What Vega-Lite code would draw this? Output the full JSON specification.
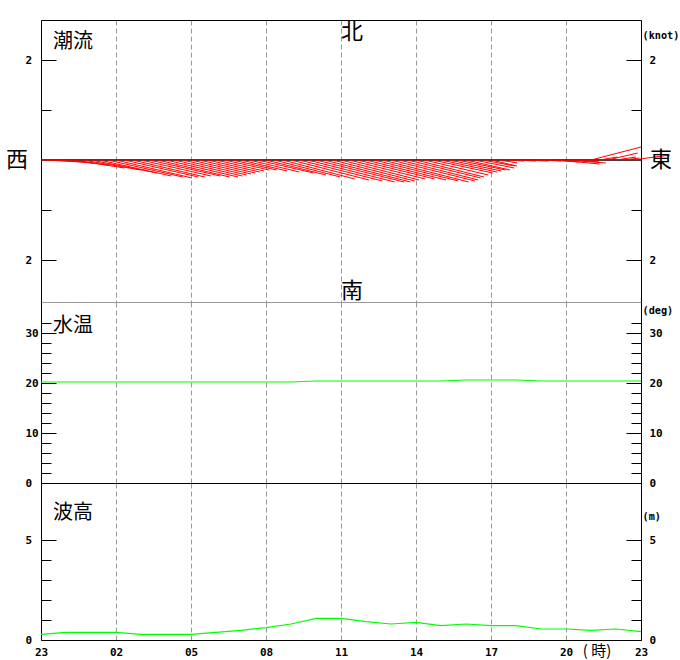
{
"$schema": "https://vega.github.io/schema/vega-lite/v6.json",
"padding": {"left": 5, "top": 20, "right": 0, "bottom": 0},
"background": "white",
"bounds": "flush",
"spacing": 0,
"config": {
  "view": {"stroke": null},
  "axis": {"labelFont": "DejaVu Sans Mono", "labelFontWeight": "bold", "labelFontSize": 11, "labelColor": "#000", "tickColor": "#000", "domainColor": "#000", "tickWidth": 1, "domainWidth": 1, "grid": false, "title": null}
},
"datasets": {
"current": [
{"t":0,"te":1.12,"v":-0.02},{"t":0.333,"te":1.613,"v":-0.04},{"t":0.667,"te":2.107,"v":-0.06},
{"t":1,"te":2.68,"v":-0.1},{"t":1.333,"te":3.333,"v":-0.16},{"t":1.667,"te":3.987,"v":-0.2},
{"t":2,"te":4.64,"v":-0.26},{"t":2.333,"te":5.213,"v":-0.32},{"t":2.667,"te":5.667,"v":-0.34},
{"t":3,"te":6.04,"v":-0.36},{"t":3.333,"te":6.293,"v":-0.34},{"t":3.667,"te":6.547,"v":-0.34},
{"t":4,"te":6.8,"v":-0.32},{"t":4.333,"te":7.173,"v":-0.32},{"t":4.667,"te":7.547,"v":-0.34},
{"t":5,"te":7.88,"v":-0.34},{"t":5.333,"te":8.053,"v":-0.32},{"t":5.667,"te":8.227,"v":-0.3},
{"t":6,"te":8.4,"v":-0.28},{"t":6.333,"te":8.573,"v":-0.26},{"t":6.667,"te":8.747,"v":-0.24},
{"t":7,"te":8.92,"v":-0.22},{"t":7.333,"te":9.133,"v":-0.2},{"t":7.667,"te":9.427,"v":-0.2},
{"t":8,"te":9.84,"v":-0.22},{"t":8.333,"te":10.333,"v":-0.24},{"t":8.667,"te":10.907,"v":-0.26},
{"t":9,"te":11.4,"v":-0.3},{"t":9.333,"te":11.973,"v":-0.34},{"t":9.667,"te":12.547,"v":-0.38},
{"t":10,"te":13.12,"v":-0.4},{"t":10.333,"te":13.653,"v":-0.42},{"t":10.667,"te":14.147,"v":-0.44},
{"t":11,"te":14.52,"v":-0.44},{"t":11.333,"te":14.773,"v":-0.44},{"t":11.667,"te":14.947,"v":-0.42},
{"t":12,"te":15.12,"v":-0.4},{"t":12.333,"te":15.373,"v":-0.38},{"t":12.667,"te":15.747,"v":-0.38},
{"t":13,"te":16.2,"v":-0.4},{"t":13.333,"te":16.693,"v":-0.42},{"t":13.667,"te":17.107,"v":-0.44},
{"t":14,"te":17.36,"v":-0.42},{"t":14.333,"te":17.493,"v":-0.4},{"t":14.667,"te":17.587,"v":-0.36},
{"t":15,"te":17.72,"v":-0.34},{"t":15.333,"te":17.893,"v":-0.3},{"t":15.667,"te":18.067,"v":-0.26},
{"t":16,"te":18.24,"v":-0.24},{"t":16.333,"te":18.413,"v":-0.22},{"t":16.667,"te":18.587,"v":-0.2},
{"t":17,"te":18.76,"v":-0.2},{"t":17.333,"te":18.933,"v":-0.16},{"t":17.667,"te":18.947,"v":-0.12},
{"t":18,"te":19.04,"v":-0.12},{"t":18.333,"te":19.053,"v":-0.06},{"t":18.667,"te":19.307,"v":-0.02},
{"t":19,"te":19.8,"v":-0.02},{"t":19.333,"te":20.293,"v":-0.02},{"t":19.667,"te":20.467,"v":0},
{"t":20,"te":20.8,"v":-0.02},{"t":20.333,"te":21.533,"v":-0.04},{"t":20.667,"te":22.347,"v":-0.08},
{"t":21,"te":22.6,"v":-0.06},{"t":21.333,"te":22.333,"v":-0.04},{"t":21.667,"te":22.307,"v":-0.02},
{"t":22,"te":24,"v":0.26},{"t":22.333,"te":23.053,"v":0.06},{"t":22.667,"te":23.867,"v":0.14},
{"t":23,"te":23.8,"v":0.06},{"t":23.333,"te":23.933,"v":0.04},{"t":23.667,"te":25.147,"v":0.1}
],
"temp": [
{"t":0,"temp":20.2},{"t":1,"temp":20.2},{"t":2,"temp":20.2},{"t":3,"temp":20.2},{"t":4,"temp":20.2},{"t":5,"temp":20.2},{"t":6,"temp":20.2},{"t":7,"temp":20.2},{"t":8,"temp":20.2},{"t":9,"temp":20.2},{"t":10,"temp":20.2},
{"t":11,"temp":20.4},{"t":12,"temp":20.4},{"t":13,"temp":20.4},{"t":14,"temp":20.4},{"t":15,"temp":20.4},{"t":16,"temp":20.4},
{"t":17,"temp":20.6},{"t":18,"temp":20.6},{"t":19,"temp":20.6},
{"t":20,"temp":20.4},{"t":21,"temp":20.4},{"t":22,"temp":20.4},{"t":23,"temp":20.4},{"t":24,"temp":20.4}
],
"wave": [
{"t":0,"h":0.28},{"t":1,"h":0.38},{"t":2,"h":0.38},{"t":3,"h":0.38},{"t":4,"h":0.28},{"t":5,"h":0.28},{"t":6,"h":0.28},{"t":7,"h":0.38},{"t":8,"h":0.48},{"t":9,"h":0.62},{"t":10,"h":0.8},{"t":11,"h":1.08},{"t":12,"h":1.08},
{"t":13,"h":0.92},{"t":14,"h":0.8},{"t":15,"h":0.88},{"t":16,"h":0.72},{"t":17,"h":0.8},{"t":18,"h":0.72},{"t":19,"h":0.72},{"t":20,"h":0.55},{"t":21,"h":0.55},{"t":22,"h":0.48},{"t":23,"h":0.55},{"t":24,"h":0.42}
]
},
"vconcat": [
{
  "width": 600, "height": 282,
  "data": {"name": "current"},
  "layer": [
    {"data": {"values": [{}]}, "mark": {"type": "rule", "color": "#000", "strokeWidth": 1.3}, "encoding": {"y": {"datum": 0, "type": "quantitative", "axis": null}}},
    {"mark": {"type": "rule", "color": "#ff0000", "strokeWidth": 1},
     "encoding": {
       "x": {"field": "te", "type": "quantitative", "scale": {"domain": [0, 24], "nice": false, "zero": false},
             "axis": {"orient": "bottom", "values": [3,6,9,12,15,18,21], "grid": true, "gridColor": "#999999", "gridDash": [5,3], "gridWidth": 1, "ticks": false, "tickSize": 0, "labels": false, "domain": true, "domainColor": "#999999", "title": null}},
       "x2": {"field": "t"},
       "y": {"field": "v", "type": "quantitative", "scale": {"domain": [-2.84, 2.8], "nice": false, "zero": false},
             "axis": {"orient": "left", "values": [-2, 2], "tickSize": -15, "labelPadding": 31, "labelAlign": "left", "labelBaseline": "middle", "labelExpr": "abs(datum.value)", "domain": true, "title": null}},
       "y2": {"datum": 0}
     }},
    {"mark": {"type": "rule", "opacity": 0}, "encoding": {"x": {"field": "t", "type": "quantitative", "axis": {"orient": "top", "ticks": false, "tickSize": 0, "labels": false, "domain": true, "title": null}}}},
    {"mark": {"type": "rule", "opacity": 0}, "encoding": {"y": {"field": "v", "type": "quantitative", "axis": {"orient": "right", "values": [-2, 2], "tickSize": -15, "labelPadding": 23, "labelAlign": "left", "labelBaseline": "middle", "labelExpr": "abs(datum.value)", "domain": true, "title": null}}}},
    {"mark": {"type": "rule", "opacity": 0}, "encoding": {"y": {"field": "v", "type": "quantitative", "axis": {"orient": "left", "values": [-1, 1], "tickSize": -10, "labels": false, "domain": false, "title": null}}}},
    {"mark": {"type": "rule", "opacity": 0}, "encoding": {"y": {"field": "v", "type": "quantitative", "axis": {"orient": "right", "values": [-1, 1], "tickSize": -10, "labels": false, "domain": false, "title": null}}}},
    {"data": {"values": [{}]}, "mark": {"type": "text", "text": "潮流", "font": "Noto Sans CJK JP", "fontSize": 20, "align": "left", "baseline": "middle", "color": "#000"}, "encoding": {"x": {"datum": 0.48, "type": "quantitative", "axis": null}, "y": {"datum": 2.36, "type": "quantitative", "axis": null}}},
    {"data": {"values": [{}]}, "mark": {"type": "text", "text": "北", "font": "Noto Sans CJK JP", "fontSize": 22, "align": "center", "baseline": "middle", "color": "#000"}, "encoding": {"x": {"datum": 12.44, "type": "quantitative", "axis": null}, "y": {"datum": 2.56, "type": "quantitative", "axis": null}}},
    {"data": {"values": [{}]}, "mark": {"type": "text", "text": "南", "font": "Noto Sans CJK JP", "fontSize": 22, "align": "center", "baseline": "middle", "color": "#000"}, "encoding": {"x": {"datum": 12.44, "type": "quantitative", "axis": null}, "y": {"datum": -2.62, "type": "quantitative", "axis": null}}},
    {"data": {"values": [{}]}, "mark": {"type": "text", "text": "西", "font": "Noto Sans CJK JP", "fontSize": 22, "align": "center", "baseline": "middle", "color": "#000"}, "encoding": {"x": {"datum": -0.96, "type": "quantitative", "axis": null}, "y": {"datum": 0, "type": "quantitative", "axis": null}}},
    {"data": {"values": [{}]}, "mark": {"type": "text", "text": "東", "font": "Noto Sans CJK JP", "fontSize": 22, "align": "center", "baseline": "middle", "color": "#000"}, "encoding": {"x": {"datum": 24.8, "type": "quantitative", "axis": null}, "y": {"datum": 0, "type": "quantitative", "axis": null}}},
    {"data": {"values": [{}]}, "mark": {"type": "text", "text": "(knot)", "font": "DejaVu Sans Mono", "fontWeight": "bold", "fontSize": 10.2, "align": "left", "baseline": "middle", "color": "#000"}, "encoding": {"x": {"datum": 24.06, "type": "quantitative", "axis": null}, "y": {"datum": 2.48, "type": "quantitative", "axis": null}}}
  ],
  "resolve": {"axis": {"x": "independent", "y": "independent"}}
},
{
  "width": 600, "height": 181,
  "data": {"name": "temp"},
  "layer": [
    {"mark": {"type": "line", "color": "#00ff00", "strokeWidth": 1.2},
     "encoding": {
       "x": {"field": "t", "type": "quantitative", "scale": {"domain": [0, 24], "nice": false, "zero": false},
             "axis": {"orient": "bottom", "values": [3,6,9,12,15,18,21], "grid": true, "gridColor": "#999999", "gridDash": [5,3], "gridWidth": 1, "ticks": false, "tickSize": 0, "labels": false, "domain": true, "title": null}},
       "y": {"field": "temp", "type": "quantitative", "scale": {"domain": [0, 36.2], "nice": false, "zero": false},
             "axis": {"orient": "left", "values": [0, 10, 20, 30], "tickSize": -15, "labelPadding": 31, "labelAlign": "left", "labelBaseline": "middle", "domain": true, "title": null}}
     }},
    {"mark": {"type": "rule", "opacity": 0}, "encoding": {"y": {"field": "temp", "type": "quantitative", "axis": {"orient": "right", "values": [0, 10, 20, 30], "tickSize": -15, "labelPadding": 23, "labelAlign": "left", "labelBaseline": "middle", "domain": true, "title": null}}}},
    {"mark": {"type": "rule", "opacity": 0}, "encoding": {"y": {"field": "temp", "type": "quantitative", "axis": {"orient": "left", "values": [2,4,6,8,12,14,16,18,22,24,26,28,32], "tickSize": -10, "labels": false, "domain": false, "title": null}}}},
    {"mark": {"type": "rule", "opacity": 0}, "encoding": {"y": {"field": "temp", "type": "quantitative", "axis": {"orient": "right", "values": [2,4,6,8,12,14,16,18,22,24,26,28,32], "tickSize": -10, "labels": false, "domain": false, "title": null}}}},
    {"data": {"values": [{}]}, "mark": {"type": "text", "text": "水温", "font": "Noto Sans CJK JP", "fontSize": 20, "align": "left", "baseline": "middle", "color": "#000"}, "encoding": {"x": {"datum": 0.48, "type": "quantitative", "axis": null}, "y": {"datum": 31.4, "type": "quantitative", "axis": null}}},
    {"data": {"values": [{}]}, "mark": {"type": "text", "text": "(deg)", "font": "DejaVu Sans Mono", "fontWeight": "bold", "fontSize": 10.2, "align": "left", "baseline": "middle", "color": "#000"}, "encoding": {"x": {"datum": 24.06, "type": "quantitative", "axis": null}, "y": {"datum": 34.4, "type": "quantitative", "axis": null}}}
  ],
  "resolve": {"axis": {"x": "independent", "y": "independent"}}
},
{
  "width": 600, "height": 157,
  "data": {"name": "wave"},
  "layer": [
    {"mark": {"type": "line", "color": "#00ff00", "strokeWidth": 1.2},
     "encoding": {
       "x": {"field": "t", "type": "quantitative", "scale": {"domain": [0, 24], "nice": false, "zero": false},
             "axis": {"orient": "bottom", "values": [0,3,6,9,12,15,18,21,24], "labelExpr": "(datum.value + 23) % 24 < 10 ? '0' + ((datum.value + 23) % 24) : '' + ((datum.value + 23) % 24)", "ticks": false, "tickSize": 0, "labelPadding": 6, "labelFlush": false, "labelOverlap": false, "labelBaseline": "top", "labelAlign": "center", "domain": true, "title": null}},
       "y": {"field": "h", "type": "quantitative", "scale": {"domain": [0, 7.85], "nice": false, "zero": false},
             "axis": {"orient": "left", "values": [0, 5], "tickSize": -15, "labelPadding": 31, "labelAlign": "left", "labelBaseline": "middle", "domain": true, "title": null}}
     }},
    {"mark": {"type": "rule", "opacity": 0}, "encoding": {"x": {"field": "t", "type": "quantitative", "axis": {"orient": "top", "values": [3,6,9,12,15,18,21], "grid": true, "gridColor": "#999999", "gridDash": [5,3], "gridWidth": 1, "ticks": false, "tickSize": 0, "labels": false, "domain": true, "title": null}}}},
    {"mark": {"type": "rule", "opacity": 0}, "encoding": {"y": {"field": "h", "type": "quantitative", "axis": {"orient": "right", "values": [0, 5], "tickSize": -15, "labelPadding": 23, "labelAlign": "left", "labelBaseline": "middle", "domain": true, "title": null}}}},
    {"mark": {"type": "rule", "opacity": 0}, "encoding": {"y": {"field": "h", "type": "quantitative", "axis": {"orient": "left", "values": [1, 2, 3, 4], "tickSize": -10, "labels": false, "domain": false, "title": null}}}},
    {"mark": {"type": "rule", "opacity": 0}, "encoding": {"y": {"field": "h", "type": "quantitative", "axis": {"orient": "right", "values": [1, 2, 3, 4], "tickSize": -10, "labels": false, "domain": false, "title": null}}}},
    {"data": {"values": [{}]}, "mark": {"type": "text", "text": "波高", "font": "Noto Sans CJK JP", "fontSize": 20, "align": "left", "baseline": "middle", "color": "#000"}, "encoding": {"x": {"datum": 0.48, "type": "quantitative", "axis": null}, "y": {"datum": 6.375, "type": "quantitative", "axis": null}}},
    {"data": {"values": [{}]}, "mark": {"type": "text", "text": "(m)", "font": "DejaVu Sans Mono", "fontWeight": "bold", "fontSize": 10.2, "align": "left", "baseline": "middle", "color": "#000"}, "encoding": {"x": {"datum": 24.06, "type": "quantitative", "axis": null}, "y": {"datum": 6.15, "type": "quantitative", "axis": null}}},
    {"data": {"values": [{}]}, "mark": {"type": "text", "text": "( 時)", "font": "Noto Sans CJK JP", "fontSize": 15, "align": "center", "baseline": "middle", "color": "#000"}, "encoding": {"x": {"datum": 22.24, "type": "quantitative", "axis": null}, "y": {"datum": -0.55, "type": "quantitative", "axis": null}}}
  ],
  "resolve": {"axis": {"x": "independent", "y": "independent"}}
}
]
}
